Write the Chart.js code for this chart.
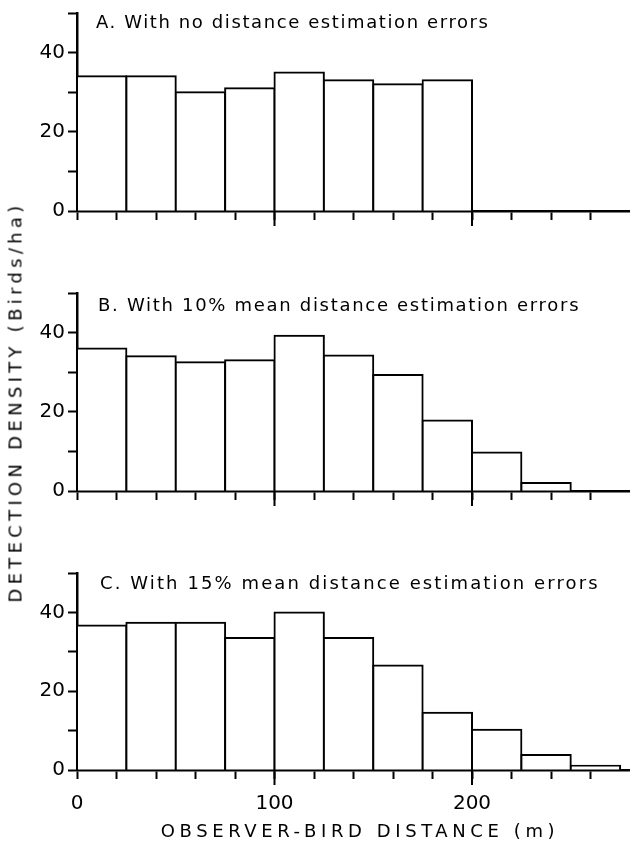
<!DOCTYPE html>
<html>
<head>
<meta charset="utf-8">
<script src="https://cdn.jsdelivr.net/npm/chart.js@4.4.1/dist/chart.umd.min.js"></script>
<style>
  body { margin: 0; background: #fff; }
  #wrap { position: relative; width: 630px; height: 843px; overflow: hidden; font-family: "DejaVu Sans", sans-serif; color: #000; }
  canvas { position: absolute; left: 0; }
  .ptitle { position: absolute; font-size: 18px; white-space: nowrap; line-height: 20px; }
  #ytitle { position: absolute; left: 15px; top: 402px; font-size: 18px; letter-spacing: 4.3px; white-space: nowrap;
            transform: translate(-50%, -50%) rotate(-90deg); }
  #xtitle { position: absolute; left: 360px; top: 830px; font-size: 18px; letter-spacing: 4.6px; white-space: nowrap;
            transform: translate(-50%, -50%); }
</style>
</head>
<body>
<div id="wrap">
  <canvas id="chartA" width="630" height="240" style="top:0px"></canvas>
  <canvas id="chartB" width="630" height="240" style="top:280px"></canvas>
  <canvas id="chartC" width="630" height="283" style="top:560px"></canvas>
  <div class="ptitle" style="left:96px; top:12px; letter-spacing:1.6px">A. With no distance estimation errors</div>
  <div class="ptitle" style="left:98px; top:295px; letter-spacing:1.7px">B. With 10% mean distance estimation errors</div>
  <div class="ptitle" style="left:100px; top:573px; letter-spacing:2.1px">C. With 15% mean distance estimation errors</div>
  <div id="ytitle">DETECTION DENSITY (Birds/ha)</div>
  <div id="xtitle">OBSERVER-BIRD DISTANCE (m)</div>
</div>
<script>
// bins are 25 m wide, values are the bin centres
var binCentres = [12.5, 37.5, 62.5, 87.5, 112.5, 137.5, 162.5, 187.5, 212.5, 237.5, 262.5];

// detection density (birds/ha) per bin
var densityA = [34, 34, 30, 31, 35, 33, 32, 33, 0, 0, 0];
var densityB = [36, 34, 32.5, 33, 39.2, 34.2, 29.3, 17.8, 9.7, 2, 0];
var densityC = [36.7, 37.4, 37.4, 33.5, 40, 33.5, 26.5, 14.5, 10.2, 3.8, 1.1];

var xLabelTicks = [0, 100, 200];
var majorTicks = [100, 200];
var yLabelTicks = [0, 20, 40];

var tickFont = { family: "DejaVu Sans", size: 20, lineHeight: 1 };

// longer tick marks at 100 and 200 m
var longTicks = {
  id: 'longTicks',
  afterDraw: function (chart) {
    var x = chart.scales.x;
    var ctx = chart.ctx;
    ctx.save();
    ctx.strokeStyle = '#000';
    ctx.lineWidth = 2;
    majorTicks.forEach(function (v) {
      var px = x.getPixelForValue(v);
      ctx.beginPath();
      ctx.moveTo(px, x.top);
      ctx.lineTo(px, x.top + 15);
      ctx.stroke();
    });
    ctx.restore();
  }
};

function makeChart(id, values, showLabels, axisHeight) {
  var pts = binCentres.map(function (c, i) { return { x: c, y: values[i] }; });
  return new Chart(document.getElementById(id), {
    type: 'bar',
    data: {
      datasets: [{
        data: pts,
        backgroundColor: '#fff',
        borderColor: '#000',
        borderWidth: 2,
        inflateAmount: 1, // centre the border on the bin edge so neighbours share one line
        barPercentage: 1,
        // the bar ruler uses the 20 m tick spacing, bins are 25 m
        categoryPercentage: 1.25
      }]
    },
    options: {
      responsive: false,
      animation: false,
      layout: { padding: { top: 10, left: 0, right: 0, bottom: 0 } },
      plugins: { legend: { display: false }, tooltip: { enabled: false } },
      scales: {
        x: {
          type: 'linear',
          min: 0,
          max: 280,
          offset: false,
          afterBuildTicks: function (s) { s.ticks = s.ticks.filter(function (t) { return t.value <= 260; }); },
          afterFit: function (s) { s.height = axisHeight; },
          ticks: {
            display: showLabels,
            stepSize: 20,
            autoSkip: false,
            maxRotation: 0,
            padding: 15,
            color: '#000',
            font: tickFont,
            callback: function (v) { return xLabelTicks.indexOf(v) >= 0 ? String(v) : ''; }
          },
          grid: { offset: false, drawOnChartArea: false, drawTicks: true, tickLength: 9, tickColor: '#000', tickWidth: 2 },
          border: { display: true, color: '#000', width: 2.5 }
        },
        y: {
          min: 0,
          max: 50,
          afterFit: function (s) { s.width = 77; },
          ticks: {
            stepSize: 10,
            padding: 3,
            color: '#000',
            font: tickFont,
            callback: function (v) { return yLabelTicks.indexOf(v) >= 0 ? String(v) : ''; }
          },
          grid: { drawOnChartArea: false, drawTicks: true, tickLength: 9, tickColor: '#000', tickWidth: 2 },
          border: { display: true, color: '#000', width: 2.5 }
        }
      }
    },
    plugins: [longTicks]
  });
}

makeChart('chartA', densityA, false, 29);
makeChart('chartB', densityB, false, 29);
makeChart('chartC', densityC, true, 73);
</script>
</body>
</html>
